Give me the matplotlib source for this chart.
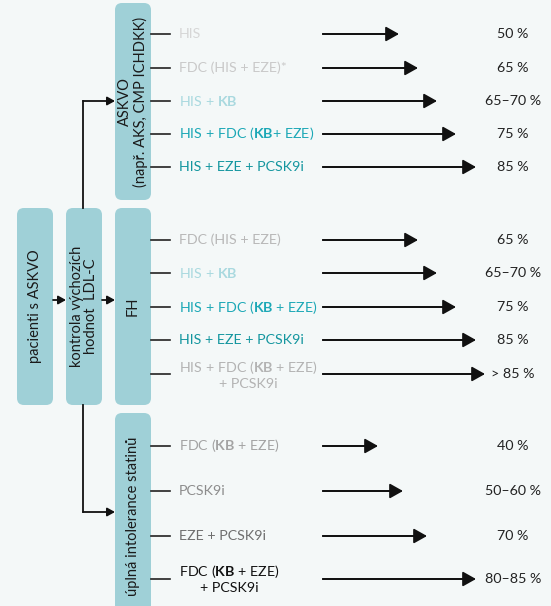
import matplotlib.pyplot as plt
from matplotlib.patches import FancyBboxPatch

plt.rcParams['font.family'] = ['Lato', 'DejaVu Sans']
plt.rcParams['mathtext.fontset'] = 'custom'
plt.rcParams['mathtext.rm'] = 'Lato'
plt.rcParams['mathtext.bf'] = 'Lato:bold'

# data
askvo_labels = ["HIS", "FDC (HIS + EZE)*", "HIS + $\\mathbf{KB}$",
                "HIS + FDC ($\\mathbf{KB}$+ EZE)", "HIS + EZE + PCSK9i"]
askvo_pct = ["50 %", "65 %", "65–70 %", "75 %", "85 %"]
askvo_arrow = [76, 95, 114, 133, 153]
askvo_colors = ['#d6d6d6', '#c9c9c9', '#a9d9df', '#1ba8b6', '#14969f']

fh_labels = ["FDC (HIS + EZE)", "HIS + $\\mathbf{KB}$",
             "HIS + FDC ($\\mathbf{KB}$ + EZE)", "HIS + EZE + PCSK9i",
             "HIS + FDC ($\\mathbf{KB}$ + EZE)\n+ PCSK9i"]
fh_pct = ["65 %", "65–70 %", "75 %", "85 %", "> 85 %"]
fh_arrow = [95, 114, 133, 153, 162]
fh_colors = ['#b8b8b8', '#a9d9df', '#1ba8b6', '#14969f', '#b3b3b3']

intol_labels = ["FDC ($\\mathbf{KB}$ + EZE)", "PCSK9i", "EZE + PCSK9i",
                "FDC ($\\mathbf{KB}$ + EZE)\n+ PCSK9i"]
intol_pct = ["40 %", "50–60 %", "70 %", "80–85 %"]
intol_arrow = [55, 80, 104, 153]
intol_colors = ['#a3a3a3', '#8c8c8c', '#6e6e6e', '#111111']

BG = '#f4f8f8'
BOX = '#9fd0d7'
FS = 10.3

fig = plt.figure(figsize=(5.51, 6.06), dpi=100, facecolor=BG)
ax = fig.add_axes([0, 0, 1, 1])
ax.set_xlim(0, 551)
ax.set_ylim(606, 0)
ax.axis('off')


def box(x0, y0, x1, y1, text):
    ax.add_patch(FancyBboxPatch((x0, y0), x1 - x0, y1 - y0,
                                boxstyle='round,pad=0,rounding_size=7',
                                fc=BOX, ec='none'))
    ax.text((x0 + x1) / 2, (y0 + y1) / 2, text, rotation=90, ha='center',
            va='center', multialignment='center', fontsize=10.5,
            color='#1a1a1a', linespacing=1.05)


def arrow(x0, x1, y, big=True):
    if big:
        style = '-|>,head_length=0.8,head_width=0.45'
    else:
        style = '-|>,head_length=0.45,head_width=0.25'
    ax.annotate('', xy=(x1, y), xytext=(x0, y),
                arrowprops=dict(arrowstyle=style, color='#111', lw=1.3,
                                shrinkA=0, shrinkB=0, mutation_scale=10))


box(17, 208, 53, 405, "pacienti s ASKVO")
box(66, 208, 102, 405, "kontrola výchozích\nhodnot  LDL-C")
box(115, 3, 151, 200, "ASKVO\n(např. AKS, CMP ICHDKK)")
box(115, 208, 151, 405, "FH")
box(115, 413, 151, 620, "úplná intolerance statinů")

# connectors
arrow(53, 66, 300, big=False)
arrow(102, 115, 300, big=False)
ax.plot([83, 83], [101, 208], color='#111', lw=1.3)
ax.plot([83, 83], [405, 512], color='#111', lw=1.3)
arrow(83, 115, 101, big=False)
arrow(83, 115, 512, big=False)


def rows(ys, labels, pcts, lens, colors):
    for y, lab, pct, ln, c in zip(ys, labels, pcts, lens, colors):
        ax.plot([151, 170], [y, y], color='#222', lw=1.2)
        ax.text(179, y, lab, ha='left', va='center', multialignment='center',
                fontsize=FS, color=c, linespacing=1.2)
        ax.plot([323, 323 + ln - 10], [y, y], color='#111', lw=1.3)
        arrow(323, 323 + ln, y)
        ax.text(513, y, pct, ha='center', va='center', fontsize=FS,
                color='#222')


rows([34, 68, 101, 134, 167], askvo_labels, askvo_pct, askvo_arrow, askvo_colors)
rows([240, 273, 307, 340, 374], fh_labels, fh_pct, fh_arrow, fh_colors)
rows([446, 491, 536, 579], intol_labels, intol_pct, intol_arrow, intol_colors)

fig.savefig('out.png', dpi=100, facecolor=BG)
plt.close(fig)
